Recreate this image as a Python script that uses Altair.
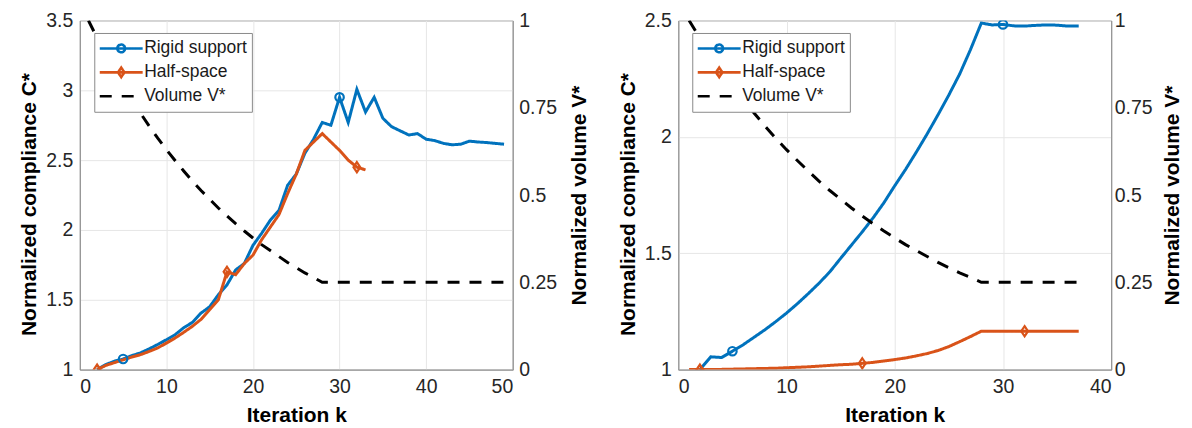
import altair as alt
import pandas as pd

SERIES = ["Rigid support", "Half-space", "Volume V*"]
COLORS = ["#0072BD", "#D95319", "#000000"]
DASHES = [[1, 0], [1, 0], [12, 10]]

RIGID_MARKERS = [5, 30]
HALF_MARKERS = [2, 17, 32]

# ---------------- left panel ----------------
left_rigid_k = list(range(2, 50))
left_rigid_c = [1.0, 1.036, 1.06, 1.076, 1.10, 1.12, 1.148, 1.18, 1.214, 1.25,
                1.30, 1.338, 1.405, 1.45, 1.536, 1.607, 1.714, 1.76, 1.89, 1.976,
                2.07, 2.14, 2.32, 2.40, 2.55, 2.65, 2.77, 2.75, 2.95, 2.77,
                3.007, 2.845, 2.95, 2.80, 2.74, 2.71, 2.68, 2.69, 2.65, 2.64,
                2.62, 2.61, 2.614, 2.636, 2.63, 2.626, 2.62, 2.614]
left_half_k = list(range(2, 34))
left_half_c = [1.0, 1.03, 1.05, 1.07, 1.09, 1.107, 1.13, 1.155, 1.19, 1.226,
               1.267, 1.31, 1.36, 1.43, 1.50, 1.70, 1.68, 1.76, 1.82, 1.93,
               2.02, 2.11, 2.26, 2.40, 2.57, 2.63, 2.69, 2.63, 2.57, 2.50,
               2.45, 2.43]
left_vol_k = list(range(1, 50))
left_vol_v = [1.0, 0.95, 0.903, 0.857, 0.815, 0.774, 0.735, 0.698, 0.663, 0.630,
              0.599, 0.569, 0.540, 0.513, 0.488, 0.463, 0.440, 0.418, 0.397, 0.377,
              0.358, 0.341, 0.324, 0.307, 0.292, 0.277, 0.264, 0.25, 0.25, 0.25,
              0.25, 0.25, 0.25, 0.25, 0.25, 0.25, 0.25, 0.25, 0.25, 0.25,
              0.25, 0.25, 0.25, 0.25, 0.25, 0.25, 0.25, 0.25, 0.25]

# ---------------- right panel ----------------
right_rigid_k = list(range(2, 38))
right_rigid_c = [1.0, 1.055, 1.052, 1.079, 1.107, 1.139, 1.171, 1.206, 1.243, 1.283,
                 1.326, 1.371, 1.42, 1.478, 1.535, 1.592, 1.652, 1.717, 1.79, 1.86,
                 1.935, 2.013, 2.095, 2.18, 2.27, 2.375, 2.489, 2.481, 2.483, 2.477,
                 2.476, 2.479, 2.481, 2.48, 2.476, 2.476]
right_half_k = list(range(1, 38))
right_half_c = [1.0, 1.0, 1.0, 1.001, 1.002, 1.003, 1.004, 1.005, 1.006, 1.008,
                1.01, 1.012, 1.015, 1.018, 1.021, 1.023, 1.027, 1.031, 1.037, 1.043,
                1.05, 1.059, 1.069, 1.082, 1.099, 1.12, 1.142, 1.165, 1.165, 1.165,
                1.165, 1.165, 1.165, 1.165, 1.165, 1.165, 1.165]
right_vol_k = list(range(1, 38))
right_vol_v = [1.0, 0.95, 0.903, 0.857, 0.815, 0.774, 0.735, 0.698, 0.663, 0.630,
               0.599, 0.569, 0.540, 0.513, 0.488, 0.463, 0.440, 0.418, 0.397, 0.377,
               0.358, 0.341, 0.324, 0.307, 0.292, 0.277, 0.264, 0.25, 0.25, 0.25,
               0.25, 0.25, 0.25, 0.25, 0.25, 0.25, 0.25]

VOL_TICKS = [0, 0.25, 0.5, 0.75, 1]

# legend symbol paths (line + marker)
P_RIGID = "M-1,0H1M0.18,0A0.18,0.18,0,1,1,-0.18,0A0.18,0.18,0,1,1,0.18,0"
P_HALF = "M-1,0H1M0,-0.22L0.15,0L0,0.22L-0.15,0Z"
P_VOL = "M-1,0H1"
DIAMOND = "M0,-1.2L0.8,0L0,1.2L-0.8,0Z"
SYMBOL_EXPR = ("datum.value === 'Rigid support' ? '%s' : (datum.value === 'Half-space' ? '%s' : '%s')"
               % (P_RIGID, P_HALF, P_VOL))

FONT = "Liberation Sans"
LW = 3


def panel(rk, rc, hk, hc, vk, vv, xmax, xticks, ymin, ymax, yticks, legx, legy,
          vlabpad, vtitlepad):
    comp = pd.DataFrame({
        "k": rk + hk,
        "C": rc + hc,
        "series": [SERIES[0]] * len(rk) + [SERIES[1]] * len(hk),
    })
    is_mark = ((comp["series"] == SERIES[0]) & comp["k"].isin(RIGID_MARKERS)) | \
              ((comp["series"] == SERIES[1]) & comp["k"].isin(HALF_MARKERS))
    mk = comp[is_mark]
    vol = pd.DataFrame({"k": vk, "V": vv, "series": SERIES[2]})

    leg = alt.Legend(
        title=None, orient="none", legendX=legx, legendY=legy, direction="vertical",
        fillColor="white", strokeColor="#8a8a8a", padding=4, cornerRadius=0,
        labelFont=FONT, labelFontSize=17.5, labelColor="#1a1a1a", labelOffset=0,
        symbolSize=1849, symbolStrokeWidth=2.6, clipHeight=23, rowPadding=1,
        symbolFillColor="transparent",
        symbolType=alt.ExprRef(expr=SYMBOL_EXPR),
    )
    color = alt.Color("series:N", scale=alt.Scale(domain=SERIES, range=COLORS), legend=leg)
    dash = alt.StrokeDash("series:N", scale=alt.Scale(domain=SERIES, range=DASHES), legend=leg)
    x = alt.X("k:Q", scale=alt.Scale(domain=[0, xmax], nice=False),
              axis=alt.Axis(values=xticks, title="Iteration k", grid=True,
                            labelPadding=8, titlePadding=9))
    yC = alt.Y("C:Q", scale=alt.Scale(domain=[ymin, ymax], nice=False, zero=False),
               axis=alt.Axis(orient="left", values=yticks, title="Normalized compliance C*",
                             grid=True, labelExpr="'' + datum.value",
                             labelPadding=7, titlePadding=6, titleY=184))
    yV = alt.Y("V:Q", scale=alt.Scale(domain=[0, 1], nice=False),
               axis=alt.Axis(orient="right", values=VOL_TICKS, title="Normalized volume V*",
                             grid=False, labelExpr="'' + datum.value",
                             labelPadding=vlabpad, titlePadding=vtitlepad, titleAngle=270,
                             titleBaseline="top"))

    lines = alt.Chart(comp).mark_line(strokeWidth=LW, clip=True).encode(
        x=x, y=yC, color=color, strokeDash=dash)
    pts = alt.Chart(mk).mark_point(filled=False, strokeWidth=2.2, size=72, opacity=1, clip=True).encode(
        x=x, y=yC, color=color,
        shape=alt.Shape("series:N", scale=alt.Scale(domain=SERIES[:2], range=["circle", DIAMOND]),
                        legend=None))
    vline = alt.Chart(vol).mark_line(strokeWidth=LW, clip=True).encode(
        x=x, y=yV, color=color, strokeDash=dash)
    return alt.layer(alt.layer(lines, pts), vline).resolve_scale(y="independent").properties(
        width=434, height=350)


p1 = panel(left_rigid_k, left_rigid_c, left_half_k, left_half_c, left_vol_k, left_vol_v,
           50, [0, 10, 20, 30, 40, 50], 1, 3.5, [1, 1.5, 2, 2.5, 3, 3.5], 14.5, 12.5, 6, 12)
p2 = panel(right_rigid_k, right_rigid_c, right_half_k, right_half_c, right_vol_k, right_vol_v,
           40, [0, 10, 20, 30, 40], 1, 2.5, [1, 1.5, 2, 2.5], 14, 12.5, 3, 10)

chart = alt.hconcat(p1, p2, spacing=166, bounds="flush").resolve_scale(
    color="independent", strokeDash="independent", shape="independent"
).resolve_legend(
    color="independent", strokeDash="independent", shape="independent"
).properties(
    padding={"left": 10, "top": 1, "right": 0, "bottom": 0}, background="white"
).configure_view(
    stroke="#8a8a8a", strokeWidth=1
).configure_axis(
    labelFont=FONT, labelFontSize=19.5, labelColor="#262626",
    titleFont=FONT, titleFontSize=21, titleFontWeight="bold", titleColor="#000000",
    domainColor="#8a8a8a", domainWidth=1, ticks=False, tickSize=0,
    gridColor="#e6e6e6", gridWidth=1,
)

chart.save("out.html", embed_options={"renderer": "svg", "actions": False})
